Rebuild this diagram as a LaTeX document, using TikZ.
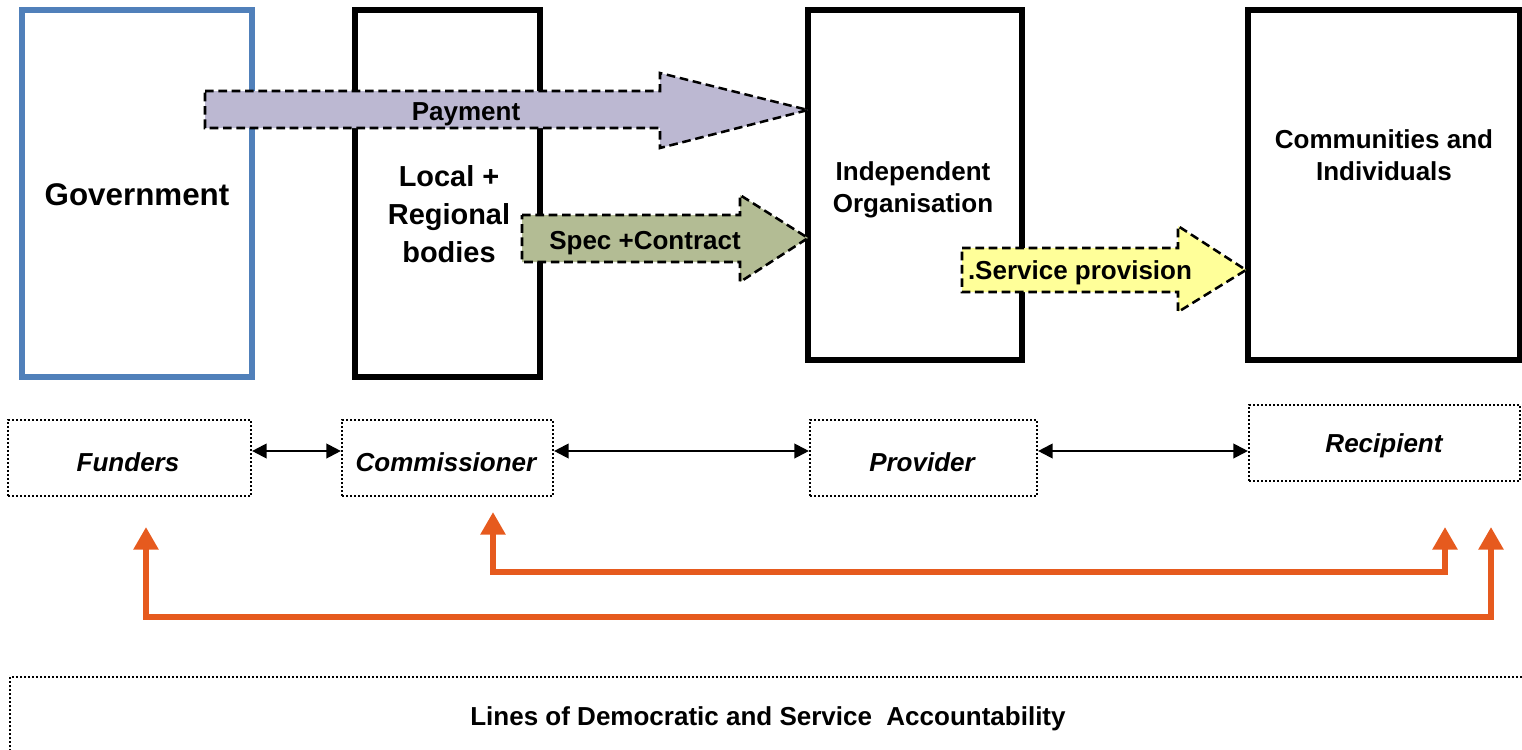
\documentclass[tikz,border=0pt]{standalone}
\usepackage{fontspec}
\setmainfont{Liberation Sans}
\usetikzlibrary{arrows.meta,fit}
\definecolor{govblue}{HTML}{5080BA}
\definecolor{paylav}{HTML}{BCB8D2}
\definecolor{specgreen}{HTML}{B3BC94}
\definecolor{servyellow}{HTML}{FFFF99}
\definecolor{accorange}{HTML}{E65A1E}
\begin{document}
\begin{tikzpicture}[x=0.75pt,y=-0.75pt,
  bigbox/.style={draw=black, line width=4.8pt, inner sep=0pt},
  govbox/.style={draw=govblue, line width=4pt, inner sep=0pt},
  blk/.style={fill=#1, draw=black, line width=1.9pt, dash pattern=on 6.5pt off 3.5pt, line join=miter},
  roledot/.style={draw=black, line width=1.6pt, dash pattern=on 1.5pt off 1.5pt, inner sep=0pt},
  lbl/.style={font=\fontsize{19.5}{24}\selectfont\bfseries, align=center},
  role/.style={font=\fontsize{19.5}{24}\selectfont\bfseries\itshape},
  link/.style={line width=1.6pt, {Triangle[length=11pt,width=11pt]}-{Triangle[length=11pt,width=11pt]}},
  acc/.style={draw=accorange, line width=4.5pt, line join=miter, {Triangle[length=17pt,width=18pt]}-{Triangle[length=17pt,width=18pt]}}
]
\useasboundingbox (0,0) rectangle (1522,750);

% main boxes
\node[govbox, fit={(22,10) (252,377)}] (gov) {};
\node[bigbox, fit={(355,10) (540,377)}] (local) {};
\node[bigbox, fit={(808,10) (1022,360)}] (indep) {};
\node[bigbox, fit={(1248,10) (1520,360)}] (commun) {};

\node[font=\fontsize{23.5}{28}\selectfont\bfseries] (govtxt) at (137,195) {Government};
\node[font=\fontsize{21.7}{28.5}\selectfont\bfseries, align=center] (localtxt) at (449,214) {Local +\\Regional\\bodies};
\node[lbl] (indeptxt) at (913,190) {Independent\\Organisation};
\node[lbl] (communtxt) at (1384,155) {Communities and\\Individuals};

% block arrows
\draw[blk=paylav] (205,91) -- (660,91) -- (660,73) -- (808,110) -- (660,148) -- (660,128) -- (205,128) -- cycle;
\node[lbl] (pay) at (466,114) {Payment};
\draw[blk=specgreen] (522,215) -- (740,215) -- (740,195) -- (808,238) -- (740,282) -- (740,262) -- (522,262) -- cycle;
\node[lbl] (spec) at (645,243) {Spec +Contract};
\draw[blk=servyellow] (962,248) -- (1178,248) -- (1178,226) -- (1246,270) -- (1178,312) -- (1178,292) -- (962,292) -- cycle;
\node[lbl] (serv) at (1080,273) {.Service provision};

% role boxes
\node[roledot, fit={(8,420) (251,496)}] (fund) {};
\node[roledot, fit={(342,420) (553,496)}] (comm) {};
\node[roledot, fit={(810,420) (1037,496)}] (prov) {};
\node[roledot, fit={(1249,405) (1520,481)}] (recip) {};
\node[role] (fundtxt) at (128,462) {Funders};
\node[role] (commtxt) at (446,462) {Commissioner};
\node[role] (provtxt) at (922,462) {Provider};
\node[role] (reciptxt) at (1384,446) {Recipient};

\coordinate (ya) at (0,451);
\draw[link] (fund.east |- ya) -- (comm.west |- ya);
\draw[link] (comm.east |- ya) -- (prov.west |- ya);
\draw[link] (prov.east |- ya) -- (recip.west |- ya);

% accountability lines
\coordinate (a1) at (493,512);
\coordinate (a2) at (1445,527);
\coordinate (b1) at (146,527);
\coordinate (b2) at (1491,527);
\draw[acc] (a1) -- (a1 |- 0,572) -- (a2 |- 0,572) -- (a2);
\draw[acc] (b1) -- (b1 |- 0,617) -- (b2 |- 0,617) -- (b2);

% bottom box
\begin{scope}
\clip (0,0) rectangle (1522,750);
\node[roledot, fit={(10,677) (1545,775)}] (lines) {};
\end{scope}
\node[lbl] (linestxt) at (768,719) {Lines of Democratic and Service\ \ Accountability};
\end{tikzpicture}
\end{document}
